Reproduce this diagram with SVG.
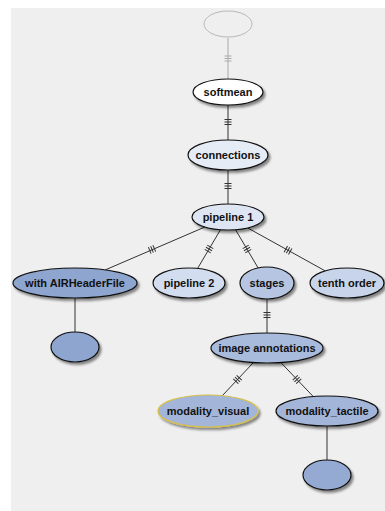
<svg xmlns="http://www.w3.org/2000/svg" xmlns:xlink="http://www.w3.org/1999/xlink" width="385" height="511" viewBox="0 0 385 511">
  <defs>
    <filter id="shadow" x="-20%" y="-30%" width="150%" height="180%">
      <feDropShadow dx="2" dy="2.5" stdDeviation="1.3" flood-color="#000" flood-opacity="0.45"/>
    </filter>
    <g id="tick">
      <line x1="-3.5" y1="-2.5" x2="3.5" y2="-2.5"/>
      <line x1="-3.5" y1="0" x2="3.5" y2="0"/>
      <line x1="-3.5" y1="2.5" x2="3.5" y2="2.5"/>
    </g>
  </defs>
  <style>
    .node ellipse { stroke: #111; stroke-width: 1.2; filter: url(#shadow); }
    .node text { font-family: "Liberation Sans", Arial, sans-serif; font-size: 11px; font-weight: bold; fill: #111; text-anchor: middle; }
    .edges line { stroke: #333; stroke-width: 1; }
    .edges use { stroke: #333; stroke-width: 1; }
    .edges .ghost, .edges .ghost line { stroke: #aaa; }
  </style>
  <rect x="0" y="0" width="385" height="511" fill="#ffffff"/>
  <rect x="11" y="8" width="374" height="503" fill="#efefef"/>

  <g id="connectors" class="edges">
    <line class="ghost" x1="228" y1="38" x2="228" y2="79"/>
    <use class="ghost" xlink:href="#tick" href="#tick" transform="translate(228,58.5)"/>
    <line x1="228" y1="105" x2="228" y2="140"/>
    <use xlink:href="#tick" href="#tick" transform="translate(228,122)"/>
    <line x1="228" y1="170" x2="228" y2="204"/>
    <use xlink:href="#tick" href="#tick" transform="translate(228,186)"/>
    <line x1="204.9" y1="227" x2="105.3" y2="269.9"/>
    <use xlink:href="#tick" href="#tick" transform="translate(152,249.4) rotate(66.7)"/>
    <line x1="220.5" y1="229.7" x2="197.6" y2="268.4"/>
    <use xlink:href="#tick" href="#tick" transform="translate(209,249) rotate(30.6)"/>
    <line x1="235.5" y1="229.7" x2="258.1" y2="267.9"/>
    <use xlink:href="#tick" href="#tick" transform="translate(247,249) rotate(-30.6)"/>
    <line x1="247.6" y1="227.9" x2="325.2" y2="270.9"/>
    <use xlink:href="#tick" href="#tick" transform="translate(288,250.3) rotate(-61)"/>
    <line x1="75" y1="298" x2="75" y2="332"/>
    <line x1="267" y1="299" x2="267" y2="333"/>
    <use xlink:href="#tick" href="#tick" transform="translate(267,315)"/>
    <line x1="253.4" y1="362.6" x2="222.3" y2="395.7"/>
    <use xlink:href="#tick" href="#tick" transform="translate(237.5,379.5) rotate(43.1)"/>
    <line x1="280.8" y1="362.5" x2="313.3" y2="396.6"/>
    <use xlink:href="#tick" href="#tick" transform="translate(297,379.5) rotate(-43.6)"/>
    <line x1="327" y1="426" x2="327" y2="460"/>
  </g>

  <g id="node-top">
    <ellipse cx="228" cy="24" rx="24" ry="13" fill="none" stroke="#b8b8b8" stroke-width="1"/>
  </g>
  <g id="node-softmean" class="node">
    <ellipse cx="228" cy="92" rx="35" ry="13" fill="#ffffff"/>
    <text x="228" y="96">softmean</text>
  </g>
  <g id="node-connections" class="node">
    <ellipse cx="228" cy="155" rx="40" ry="15" fill="#e6ecf6"/>
    <text x="228" y="159">connections</text>
  </g>
  <g id="node-pipeline1" class="node">
    <ellipse cx="228" cy="217" rx="36" ry="13" fill="#dee6f3"/>
    <text x="228" y="221">pipeline 1</text>
  </g>
  <g id="node-airheader" class="node">
    <ellipse cx="75" cy="283" rx="62" ry="15" fill="#8da5cf"/>
    <text x="75" y="287">with AIRHeaderFile</text>
  </g>
  <g id="node-pipeline2" class="node">
    <ellipse cx="189" cy="283" rx="36" ry="15" fill="#d2ddef"/>
    <text x="189" y="287">pipeline 2</text>
  </g>
  <g id="node-stages" class="node">
    <ellipse cx="267" cy="283" rx="27" ry="16" fill="#b5c5e2"/>
    <text x="267" y="287">stages</text>
  </g>
  <g id="node-tenth" class="node">
    <ellipse cx="347" cy="283" rx="37" ry="15" fill="#c8d4ea"/>
    <text x="347" y="287">tenth order</text>
  </g>
  <g id="node-circle-left" class="node">
    <ellipse cx="75" cy="347" rx="24" ry="15" fill="#8da5cf"/>
  </g>
  <g id="node-image-annotations" class="node">
    <ellipse cx="267" cy="348" rx="56" ry="15" fill="#a9bbdc"/>
    <text x="267" y="352">image annotations</text>
  </g>
  <g id="node-modality-visual" class="node">
    <ellipse cx="208" cy="411" rx="50" ry="16" fill="#a3b5d9" style="stroke:#d8c048"/>
    <text x="208" y="415">modality_visual</text>
  </g>
  <g id="node-modality-tactile" class="node">
    <ellipse cx="327" cy="411" rx="51" ry="15" fill="#a3b5d9"/>
    <text x="327" y="415">modality_tactile</text>
  </g>
  <g id="node-circle-right" class="node">
    <ellipse cx="327" cy="475" rx="24" ry="15" fill="#94aad3"/>
  </g>
</svg>
